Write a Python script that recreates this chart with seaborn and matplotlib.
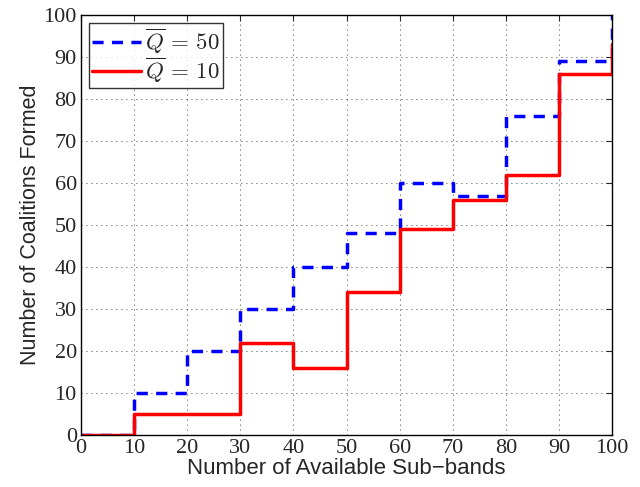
import matplotlib
matplotlib.use("Agg")
import matplotlib.pyplot as plt
import seaborn as sns
import pandas as pd

subbands = [0, 10, 20, 30, 40, 50, 60, 70, 80, 90, 100]
q50 = [0, 10, 20, 30, 40, 48, 60, 57, 76, 89, 100]
q10 = [0, 5, 5, 22, 16, 34, 49, 56, 62, 86, 93]
labels = [r'$\overline{Q}\,=\,50$', r'$\overline{Q}\,=\,10$']
xticks = list(range(0, 101, 10))
yticks = list(range(0, 101, 10))

sns.set_style("white")
plt.rcParams['mathtext.fontset'] = 'cm'
plt.rcParams['font.family'] = ['Liberation Serif', 'DejaVu Serif']

fig = plt.figure(figsize=(6.4, 4.87), dpi=100)
ax = fig.add_axes([0.1266, 0.1068, 0.8297, 0.8624])

df50 = pd.DataFrame({'x': subbands, 'y': q50})
df10 = pd.DataFrame({'x': subbands, 'y': q10})
sns.lineplot(data=df50, x='x', y='y', ax=ax, color='#0000ff', lw=2.5,
             linestyle=(0, (3.2, 2.4)), drawstyle='steps-post', label=labels[0])
sns.lineplot(data=df10, x='x', y='y', ax=ax, color='#ff0000', lw=2.5,
             drawstyle='steps-post', label=labels[1])

ax.set_xlim(0, 100)
ax.set_ylim(0, 100)
ax.set_xticks(xticks)
ax.set_yticks(yticks)
ax.tick_params(direction='in', top=True, right=True, labelsize=16, length=4, pad=3)
ax.grid(True, linestyle=(0, (1, 5)), color='black', linewidth=0.6)
for s in ax.spines.values():
    s.set_color('black')
    s.set_linewidth(1.0)

ax.set_xlabel('Number of Available Sub\u2212bands', fontsize=16,
              family=['Liberation Sans', 'DejaVu Sans'], labelpad=0)
ax.set_ylabel('Number of Coalitions Formed', fontsize=15.5,
              family=['Liberation Sans', 'DejaVu Sans'], labelpad=2)

leg = ax.legend(loc='upper left', fontsize=16.5, frameon=True, fancybox=False,
                edgecolor='black', borderaxespad=0.35, handlelength=2.1,
                handletextpad=0.2, borderpad=0.15, labelspacing=0.0)
leg.get_frame().set_linewidth(1.0)

fig.savefig('out.png', dpi=100)
